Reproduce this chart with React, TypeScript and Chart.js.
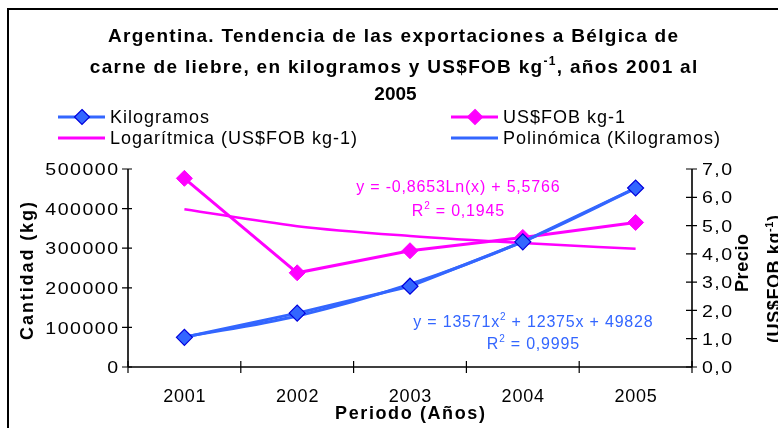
import React, { useEffect, useRef } from 'react';
import { Chart, registerables } from 'chart.js';

Chart.register(...registerables);

// ---------- data ----------
const years = ['2001', '2002', '2003', '2004', '2005'];
const kilogramos = [75000, 136000, 204000, 316000, 452000];
const precioFob = [6.67, 3.33, 4.11, 4.58, 5.11];
const logTrendFob = [5.58, 4.98, 4.63, 4.38, 4.18];
const polyTrendKg = [75800, 128900, 209100, 316500, 451000];
const leftTickLabels = ['0', '100000', '200000', '300000', '400000', '500000'];
const rightTickLabels = ['0,0', '1,0', '2,0', '3,0', '4,0', '5,0', '6,0', '7,0'];
const seriesNames = ['Kilogramos', 'US$FOB kg-1', 'Logarítmica (US$FOB kg-1)', 'Polinómica (Kilogramos)'];

const BLUE = '#3366FF';
const BLUE_DARK = '#0000DD';
const MAGENTA = '#FF00FF';
const FAMILY = '"Liberation Sans", Arial, Helvetica, sans-serif';

type Part = { t: string; sup?: boolean };
type TextOpts = {
  size: number;
  bold?: boolean;
  color?: string;
  spacing?: number;
  sx?: number;
  align?: 'left' | 'center' | 'right';
  rotate?: boolean;
};

function richText(ctx: CanvasRenderingContext2D, parts: Part[], x: number, cy: number, o: TextOpts) {
  const spacing = o.spacing ?? 0;
  const sx = o.sx ?? 1;
  const weight = o.bold ? 'bold ' : '';
  const fontFor = (p: Part) => `${weight}${p.sup ? Math.round(o.size * 0.62) : o.size}px ${FAMILY}`;
  ctx.save();
  ctx.translate(x, cy);
  if (o.rotate) ctx.rotate(-Math.PI / 2);
  ctx.scale(sx, 1);
  const c: any = ctx;
  const widths = parts.map((p) => {
    ctx.font = fontFor(p);
    c.letterSpacing = '0px';
    return ctx.measureText(p.t).width + spacing * p.t.length;
  });
  const total = widths.reduce((a, b) => a + b, 0) - spacing;
  const align = o.align ?? 'center';
  let px = align === 'center' ? -total / 2 : align === 'right' ? -total : 0;
  const base = o.size * 0.36;
  ctx.fillStyle = o.color ?? '#000';
  ctx.textAlign = 'left';
  ctx.textBaseline = 'alphabetic';
  parts.forEach((p, i) => {
    ctx.font = fontFor(p);
    c.letterSpacing = spacing + 'px';
    ctx.fillText(p.t, px, base - (p.sup ? o.size * 0.42 : 0));
    px += widths[i];
  });
  ctx.restore();
}

function diamond(ctx: CanvasRenderingContext2D, x: number, y: number, r: number, fill: string, stroke: string) {
  ctx.save();
  ctx.beginPath();
  ctx.moveTo(x, y - r);
  ctx.lineTo(x + r, y);
  ctx.lineTo(x, y + r);
  ctx.lineTo(x - r, y);
  ctx.closePath();
  ctx.fillStyle = fill;
  ctx.fill();
  ctx.lineWidth = 1.2;
  ctx.strokeStyle = stroke;
  ctx.stroke();
  ctx.restore();
}

const excelPlugin = {
  id: 'excelLayout',
  beforeDatasetsDraw(chart: any) {
    const ctx: CanvasRenderingContext2D = chart.ctx;
    const a = chart.chartArea;
    const xs = chart.scales.x;
    const yl = chart.scales.y;
    const yr = chart.scales.y1;
    ctx.save();
    ctx.strokeStyle = '#000';
    ctx.lineWidth = 1.6;
    ctx.beginPath();
    // axis lines
    ctx.moveTo(a.left, a.top);
    ctx.lineTo(a.left, a.bottom);
    ctx.moveTo(a.right, a.top);
    ctx.lineTo(a.right, a.bottom);
    ctx.moveTo(a.left, a.bottom);
    ctx.lineTo(a.right, a.bottom);
    ctx.stroke();
    ctx.lineWidth = 1.2;
    ctx.beginPath();
    yl.ticks.forEach((t: any) => {
      const y = yl.getPixelForValue(t.value);
      ctx.moveTo(a.left - 6, y);
      ctx.lineTo(a.left + 4, y);
    });
    yr.ticks.forEach((t: any) => {
      const y = yr.getPixelForValue(t.value);
      ctx.moveTo(a.right - 6, y);
      ctx.lineTo(a.right + 5, y);
    });
    for (let i = 0; i <= years.length; i++) {
      const x = xs.getPixelForValue(i - 0.5);
      ctx.moveTo(x, a.bottom - 6);
      ctx.lineTo(x, a.bottom + 6);
    }
    ctx.stroke();
    ctx.restore();
  },
  afterDraw(chart: any) {
    const ctx: CanvasRenderingContext2D = chart.ctx;
    const a = chart.chartArea;
    const xs = chart.scales.x;
    const yl = chart.scales.y;
    const yr = chart.scales.y1;

    // title
    const tOpts: TextOpts = { size: 19, bold: true, spacing: 1.3 };
    richText(ctx, [{ t: 'Argentina. Tendencia de las exportaciones a Bélgica de' }], 393, 35, tOpts);
    richText(
      ctx,
      [{ t: 'carne de liebre, en kilogramos y US$FOB kg' }, { t: '-1', sup: true }, { t: ', años 2001 al' }],
      393.5,
      66,
      tOpts
    );
    richText(ctx, [{ t: '2005' }], 395.5, 93, { ...tOpts, spacing: 0 });

    // legend (2 columns)
    const colX = [58, 451];
    const rowY = [117, 138];
    chart.data.datasets.forEach((ds: any, i: number) => {
      const col = i % 2;
      const row = Math.floor(i / 2);
      const x0 = colX[col];
      const y = rowY[row];
      ctx.save();
      ctx.strokeStyle = ds.borderColor;
      ctx.lineWidth = 3;
      ctx.beginPath();
      ctx.moveTo(x0, y);
      ctx.lineTo(x0 + 47, y);
      ctx.stroke();
      ctx.restore();
      if (ds.pointRadius > 0) diamond(ctx, x0 + 24, y, 7.5, ds.pointBackgroundColor, ds.pointBorderColor);
      richText(ctx, [{ t: ds.label }], x0 + 52, y, { size: 18, spacing: 1, align: 'left' });
    });

    // left tick labels
    yl.ticks.forEach((t: any, i: number) => {
      richText(ctx, [{ t: leftTickLabels[i] }], a.left - 10, yl.getPixelForValue(t.value), {
        size: 17, spacing: 1.3, sx: 1.15, align: 'right',
      });
    });
    // right tick labels
    yr.ticks.forEach((t: any, i: number) => {
      richText(ctx, [{ t: rightTickLabels[i] }], a.right + 10, yr.getPixelForValue(t.value), {
        size: 17, spacing: 1.3, sx: 1.15, align: 'left',
      });
    });
    // x labels
    years.forEach((yv, i) => {
      richText(ctx, [{ t: yv }], xs.getPixelForValue(i), a.bottom + 29, { size: 18, spacing: 0.8 });
    });

    // axis titles
    richText(ctx, [{ t: 'Cantidad (kg)' }], 27, (a.top + a.bottom) / 2 + 3, { size: 18, bold: true, spacing: 1.9, rotate: true });
    richText(ctx, [{ t: 'Periodo (Años)' }], (a.left + a.right) / 2, a.bottom + 46, { size: 18, bold: true, spacing: 1.6 });
    richText(ctx, [{ t: 'Precio' }], 742, (a.top + a.bottom) / 2 - 5, { size: 18, bold: true, spacing: 0.6, rotate: true });
    richText(ctx, [{ t: '(US$FOB kg' }, { t: '-1', sup: true }, { t: ')' }], 774, (a.top + a.bottom) / 2 + 11, {
      size: 18, bold: true, spacing: 0.6, rotate: true,
    });

    // trendline equations
    const w = a.right - a.left;
    const h = a.bottom - a.top;
    const eq: TextOpts = { size: 16, spacing: 0.8 };
    richText(ctx, [{ t: 'y = -0,8653Ln(x) + 5,5766' }], a.left + w * 0.585, a.top + h * 0.086, { ...eq, color: MAGENTA });
    richText(ctx, [{ t: 'R' }, { t: '2', sup: true }, { t: ' = 0,1945' }], a.left + w * 0.585, a.top + h * 0.207, { ...eq, color: MAGENTA });
    richText(
      ctx,
      [{ t: 'y = 13571x' }, { t: '2', sup: true }, { t: ' + 12375x + 49828' }],
      a.left + w * 0.718,
      a.top + h * 0.768,
      { ...eq, color: BLUE }
    );
    richText(ctx, [{ t: 'R' }, { t: '2', sup: true }, { t: ' = 0,9995' }], a.left + w * 0.718, a.top + h * 0.879, { ...eq, color: BLUE });
  },
};

export default function App() {
  const ref = useRef<HTMLCanvasElement | null>(null);

  useEffect(() => {
    if (!ref.current) return;
    const chart = new Chart(ref.current, {
      type: 'line',
      data: {
        labels: years,
        datasets: [
          {
            label: seriesNames[0],
            data: kilogramos,
            yAxisID: 'y',
            borderColor: BLUE,
            borderWidth: 3,
            pointStyle: 'rectRot',
            pointRadius: 8,
            pointBackgroundColor: BLUE,
            pointBorderColor: BLUE_DARK,
            pointBorderWidth: 1.2,
            tension: 0,
          },
          {
            label: seriesNames[1],
            data: precioFob,
            yAxisID: 'y1',
            borderColor: MAGENTA,
            borderWidth: 3,
            pointStyle: 'rectRot',
            pointRadius: 8,
            pointBackgroundColor: MAGENTA,
            pointBorderColor: MAGENTA,
            pointBorderWidth: 1,
            tension: 0,
          },
          {
            label: seriesNames[2],
            data: logTrendFob,
            yAxisID: 'y1',
            borderColor: MAGENTA,
            borderWidth: 2.5,
            pointRadius: 0,
            cubicInterpolationMode: 'monotone',
          },
          {
            label: seriesNames[3],
            data: polyTrendKg,
            yAxisID: 'y',
            borderColor: BLUE,
            borderWidth: 3,
            pointRadius: 0,
            cubicInterpolationMode: 'monotone',
          },
        ],
      },
      options: {
        responsive: false,
        animation: false,
        devicePixelRatio: 1,
        layout: { padding: { top: 169, left: 0, right: 0, bottom: 0 } },
        plugins: {
          legend: { display: false },
          title: { display: false },
          tooltip: { enabled: false },
        },
        scales: {
          x: {
            offset: true,
            grid: { display: false },
            border: { display: false },
            ticks: { display: false },
            afterFit: (s: any) => {
              s.height = 61;
            },
          },
          y: {
            position: 'left',
            min: 0,
            max: 500000,
            ticks: { display: false, stepSize: 100000 },
            grid: { display: false },
            border: { display: false },
            afterFit: (s: any) => {
              s.width = 128;
            },
          },
          y1: {
            position: 'right',
            min: 0,
            max: 7,
            ticks: { display: false, stepSize: 1 },
            grid: { display: false },
            border: { display: false },
            afterFit: (s: any) => {
              s.width = 86;
            },
          },
        },
      } as any,
      plugins: [excelPlugin as any],
    });
    return () => chart.destroy();
  }, []);

  return (
    <div
      style={{
        position: 'fixed',
        left: 0,
        top: 0,
        width: 778,
        height: 428,
        overflow: 'hidden',
        background: '#fff',
      }}
    >
      <div
        style={{
          position: 'absolute',
          left: 7,
          top: 8,
          width: 820,
          height: 480,
          border: '2px solid #000',
          boxSizing: 'border-box',
        }}
      />
      <canvas ref={ref} width={778} height={428} style={{ position: 'absolute', left: 0, top: 0, width: 778, height: 428 }} />
    </div>
  );
}
